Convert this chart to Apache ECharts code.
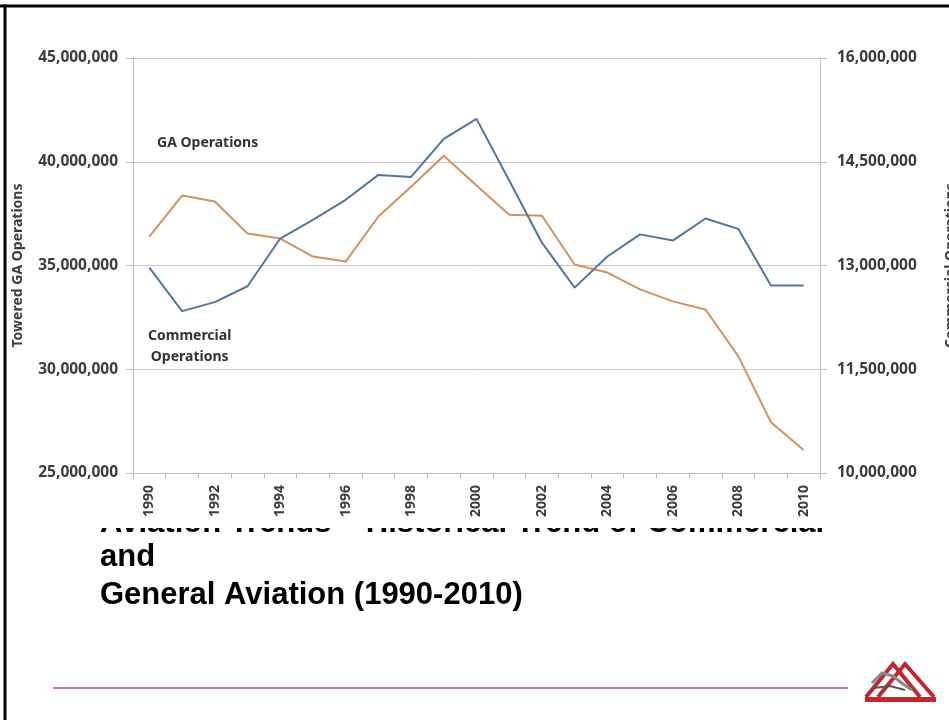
<!DOCTYPE html>
<html>
<head>
<meta charset="utf-8">
<script src="https://cdn.jsdelivr.net/npm/echarts@6/dist/echarts.min.js"></script>
<style>
html,body{margin:0;padding:0;background:#fff;}
#chart{width:949px;height:720px;}
</style>
</head>
<body>
<div id="chart"></div>
<script>
// ---- Data ----
var years = ['1990','1991','1992','1993','1994','1995','1996','1997','1998','1999','2000',
             '2001','2002','2003','2004','2005','2006','2007','2008','2009','2010'];
// Towered GA operations (left axis)
var gaOperations = [36390000, 38370000, 38080000, 36540000, 36300000, 35430000, 35190000, 37360000,
                    38800000, 40290000, 38850000, 37450000, 37400000, 35050000, 34660000, 33850000,
                    33270000, 32880000, 30630000, 27450000, 26110000];
// Commercial operations (right axis)
var commercialOperations = [12970000, 12340000, 12470000, 12700000, 13390000, 13660000, 13950000, 14310000,
                            14280000, 14830000, 15120000, 14230000, 13330000, 12680000, 13130000, 13450000,
                            13360000, 13680000, 13530000, 12710000, 12710000];
var leftAxisName = 'Towered GA Operations';
var rightAxisName = 'Commercial Operations';
var titleLines = ['Aviation Trends \u2013 Historical Trend of Commercial', 'and', 'General Aviation (1990-2010)'];

function fmt(v){ return Math.round(v).toString().replace(/\B(?=(\d{3})+(?!\d))/g, ','); }

var chartFont = 'Noto Sans';
var labelColor = '#3c3c3c';
var axisGrey = '#bdbdbd';

var chart = echarts.init(document.getElementById('chart'), null, {renderer:'canvas'});
var option = {
  backgroundColor: '#ffffff',
  animation: false,
  grid: { left: 133, right: 129, top: 58, bottom: 247, containLabel: false, outerBoundsMode: 'none' },
  xAxis: {
    type: 'category',
    data: years,
    boundaryGap: true,
    axisLine: { lineStyle: { color: axisGrey, width: 1 } },
    axisTick: { show: true, interval: 0, length: 6, lineStyle: { color: axisGrey } },
    axisLabel: { interval: 1, rotate: 90, margin: 12, fontFamily: chartFont, fontWeight: 'bold',
                 fontSize: 14, color: labelColor },
    splitLine: { show: false }
  },
  yAxis: [
    {
      type: 'value', position: 'left', min: 25000000, max: 45000000, interval: 5000000,
      name: leftAxisName, nameLocation: 'middle', nameGap: 108, nameRotate: 90,
      nameTextStyle: { fontFamily: chartFont, fontWeight: 'bold', fontSize: 14, color: labelColor },
      axisLine: { show: true, lineStyle: { color: axisGrey } },
      axisTick: { show: true, length: 7, lineStyle: { color: axisGrey } },
      axisLabel: { formatter: fmt, margin: 15, fontFamily: chartFont, fontWeight: 'bold', fontSize: 15.5, color: labelColor },
      splitLine: { show: true, lineStyle: { color: '#c8c8c8', width: 1 } }
    },
    {
      type: 'value', position: 'right', min: 10000000, max: 16000000, interval: 1500000,
      name: rightAxisName, nameLocation: 'middle', nameGap: 124, nameRotate: 90,
      nameTextStyle: { fontFamily: chartFont, fontWeight: 'bold', fontSize: 14, color: labelColor },
      axisLine: { show: true, lineStyle: { color: axisGrey } },
      axisTick: { show: true, length: 7, lineStyle: { color: axisGrey } },
      axisLabel: { formatter: fmt, margin: 17, fontFamily: chartFont, fontWeight: 'bold', fontSize: 15.5, color: labelColor },
      splitLine: { show: false }
    }
  ],
  series: [
    {
      name: 'GA Operations', type: 'line', yAxisIndex: 0, data: gaOperations,
      symbol: 'none', lineStyle: { color: '#d4915c', width: 2 }, itemStyle: { color: '#d4915c' }, z: 3
    },
    {
      name: 'Commercial Operations', type: 'line', yAxisIndex: 1, data: commercialOperations,
      symbol: 'none', lineStyle: { color: '#52769f', width: 2 }, itemStyle: { color: '#52769f' }, z: 4
    }
  ],
  graphic: [
    // slide title (first line partly hidden behind the chart picture)
    { type: 'text', z: -3, left: 100, top: 508, style: { text: titleLines[0], font: 'bold 31px "Liberation Sans", Arial, sans-serif', fill: '#000' } },
    { type: 'rect', z: -2, shape: { x: 0, y: 490, width: 949, height: 38 }, style: { fill: '#ffffff' } },
    { type: 'text', z: -3, left: 100, top: 542, style: { text: titleLines[1], font: 'bold 31px "Liberation Sans", Arial, sans-serif', fill: '#000' } },
    { type: 'text', z: -3, left: 100, top: 580, style: { text: titleLines[2], font: 'bold 31px "Liberation Sans", Arial, sans-serif', fill: '#000' } },
    // in-chart series labels
    { type: 'text', left: 157, top: 136, style: { text: 'GA Operations', font: 'bold 14px "Noto Sans"', fill: '#333' } },
    { type: 'text', left: 148, top: 326, style: { text: 'Commercial\nOperations', font: 'bold 14px "Noto Sans"', fill: '#333', textAlign: 'center', lineHeight: 21 } },
    // slide frame
    { type: 'line', shape: { x1: 0, y1: 6, x2: 949, y2: 6 }, style: { stroke: '#000', lineWidth: 3 } },
    { type: 'line', shape: { x1: 5, y1: 4.5, x2: 5, y2: 720 }, style: { stroke: '#000', lineWidth: 3 } },
    // footer rule
    { type: 'line', shape: { x1: 53, y1: 688, x2: 848, y2: 688 }, style: { stroke: '#c0504d', lineWidth: 1.5 } },
    // logo
    { type: 'polyline', shape: { points: [[866,697],[893,664],[920,697]] }, style: { stroke: '#c4262e', lineWidth: 4, fill: null } },
    { type: 'polyline', shape: { points: [[878,697],[905,664],[934,697]] }, style: { stroke: '#c4262e', lineWidth: 4, fill: null } },
    { type: 'rect', shape: { x: 865, y: 697, width: 71, height: 5 }, style: { fill: '#c4262e' } },
    { type: 'polyline', shape: { points: [[872,683],[882,673],[893,676],[903,684],[912,690]] }, style: { stroke: '#8a8a8a', lineWidth: 3, fill: null } },
    { type: 'polyline', shape: { points: [[874,688],[890,686],[905,690]] }, style: { stroke: '#555', lineWidth: 2, fill: null } }
  ]
};
chart.setOption(option);
</script>
</body>
</html>
